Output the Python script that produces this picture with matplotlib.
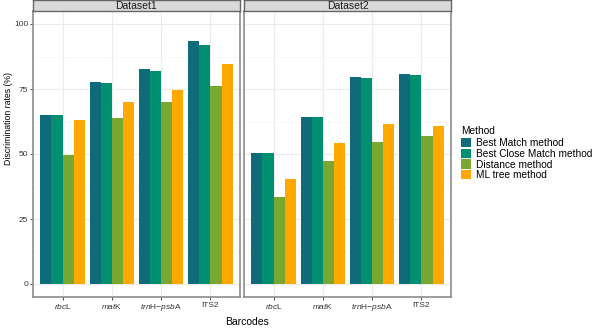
import matplotlib
matplotlib.use("Agg")
import matplotlib.pyplot as plt
import numpy as np
from matplotlib.patches import Patch

plt.rcParams['font.family'] = ['Liberation Sans', 'DejaVu Sans']
plt.rcParams['mathtext.fontset'] = 'custom'
plt.rcParams['mathtext.rm'] = 'Liberation Sans'
plt.rcParams['mathtext.it'] = 'Liberation Sans:italic'
plt.rcParams['mathtext.bf'] = 'Liberation Sans:bold'

datasets = ["Dataset1", "Dataset2"]
barcodes = ["rbcL", "matK", "trnH-psbA", "ITS2"]
barcode_labels = [r"$\it{rbc}\mathrm{L}$", r"$\it{mat}\mathrm{K}$",
                  r"$\it{trn}\mathrm{H{-}}\it{psb}\mathrm{A}$", "ITS2"]
methods = ["Best Match method", "Best Close Match method", "Distance method", "ML tree method"]
colors = ["#0d6b7a", "#008f70", "#78a832", "#ffa800"]

d1_best_match = [65.1, 77.6, 82.6, 93.3]
d1_best_close = [65.0, 77.4, 81.9, 92.0]
d1_distance = [49.5, 64.0, 70.1, 76.2]
d1_ml_tree = [63.2, 70.0, 74.7, 84.6]

d2_best_match = [50.3, 64.2, 79.5, 80.9]
d2_best_close = [50.3, 64.2, 79.4, 80.5]
d2_distance = [33.3, 47.2, 54.5, 56.9]
d2_ml_tree = [40.3, 54.3, 61.5, 60.6]

data = {
    "Dataset1": [d1_best_match, d1_best_close, d1_distance, d1_ml_tree],
    "Dataset2": [d2_best_match, d2_best_close, d2_distance, d2_ml_tree],
}

W, H = 600, 330
fig = plt.figure(figsize=(6, 3.3), dpi=100)

panels = [(33, 240), (244, 451)]
top, bottom = 11, 297
border_col = "#8c8c8c"

x = np.arange(1, len(barcodes) + 1)
bw = 0.9 / 4

for i, (ds, (l, r)) in enumerate(zip(datasets, panels)):
    ax = fig.add_axes([l / W, 1 - bottom / H, (r - l) / W, (bottom - top) / H])
    for j, (vals, c) in enumerate(zip(data[ds], colors)):
        ax.bar(x + (j - 1.5) * bw, vals, width=bw, color=c, zorder=3, linewidth=0)
    ax.set_xlim(0.4, 4.6)
    ax.set_ylim(-5, 105)
    ax.set_yticks([0, 25, 50, 75, 100])
    ax.set_yticks([12.5, 37.5, 62.5, 87.5], minor=True)
    ax.set_xticks(x)
    ax.set_xticklabels(barcode_labels, fontsize=6, color="#333333")
    ax.grid(True, which="major", color="#ebebeb", linewidth=0.8, zorder=0)
    ax.grid(True, which="minor", axis="y", color="#f4f4f4", linewidth=0.5, zorder=0)
    ax.tick_params(axis="both", which="major", length=2, width=0.6, color="#333333",
                   labelsize=6, labelcolor="#333333", pad=1.5)
    ax.tick_params(axis="y", which="minor", length=0)
    if i == 1:
        ax.tick_params(axis="y", which="major", left=False, labelleft=False)
    for s in ax.spines.values():
        s.set_color(border_col)
        s.set_linewidth(1.2)
    # strip
    sax = fig.add_axes([l / W, 1 - top / H, (r - l) / W, top / H])
    sax.set_xticks([]); sax.set_yticks([])
    sax.set_facecolor("#d9d9d9")
    for s in sax.spines.values():
        s.set_color("#666666")
        s.set_linewidth(1.0)
    sax.text(0.5, 0.45, ds, ha="center", va="center", fontsize=7.5, color="#1a1a1a",
             transform=sax.transAxes)

fig.text(9 / W, 1 - 118 / H, "Discrimination rates (%)", rotation=90, ha="center",
         va="center", fontsize=6.3)
fig.text(247 / W, 1 - 322 / H, "Barcodes", ha="center", va="center", fontsize=7.5)

handles = [Patch(facecolor=c, edgecolor="none") for c in colors]
leg = fig.legend(handles, methods, title="Method", loc="upper left",
                 bbox_to_anchor=(461 / W, 1 - 126 / H), frameon=False,
                 fontsize=7.3, title_fontsize=7.3, handlelength=1.0, handleheight=1.05,
                 handletextpad=0.45, labelspacing=0.05, borderaxespad=0, borderpad=0)
leg._legend_box.align = "left"
leg._legend_box.sep = 1.5

fig.savefig("out.png", dpi=100)
